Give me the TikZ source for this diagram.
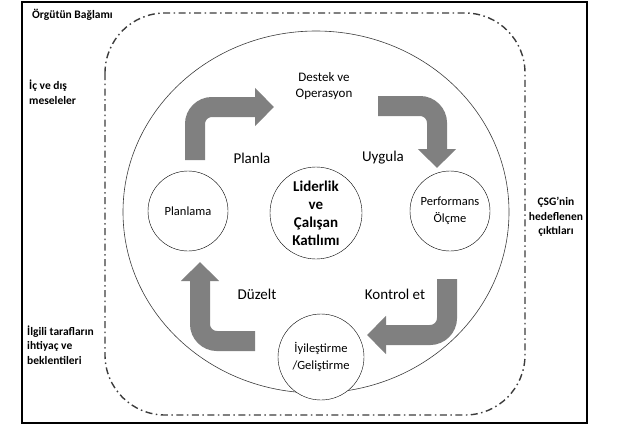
\documentclass[tikz,border=0pt]{standalone}
\usepackage{fontspec}
\setmainfont{Carlito}
\usetikzlibrary{arrows.meta}
\definecolor{arrowgray}{RGB}{128,128,128}
\definecolor{linegray}{RGB}{60,60,60}

\begin{document}
\begin{tikzpicture}[x=1pt, y=-1pt,
    stage/.style={circle, draw, fill=white, inner sep=0pt, minimum size=80pt, align=center, font=\fontsize{12.5}{17}\selectfont},
    phase/.style={font=\fontsize{15}{18}\selectfont},
    side/.style={font=\bfseries\fontsize{11.5}{14.5}\selectfont, align=left, inner sep=0pt},
    bigarrow/.style={draw=arrowgray, line width=20pt, rounded corners=17pt, -{Triangle[length=19pt, width=37pt]}}]
    \useasboundingbox (0, 0) rectangle (619, 426);
    \draw[line width=2.6pt] (22, 2) rectangle (587, 423);
    \draw[linegray, line width=1.4pt, dash pattern=on 7pt off 3.5pt on 1.5pt off 3.5pt, rounded corners=60pt] (105, 13) rectangle (525, 415);
    \draw[linegray, line width=0.6pt] (316, 212) ellipse [x radius=193, y radius=181];

    \node[stage] (plan) at (188, 211) {Planlama};
    \node[stage, minimum size=92pt, font=\bfseries\fontsize{15}{18}\selectfont] (lead) at (316, 213) {Liderlik\\ve\\Çalışan\\Katılımı};
    \node[stage] (perf) at (450, 211) {Performans\\Ölçme};
    \node[stage, minimum size=86pt] (impr) at (321, 357) {İyileştirme\\/Geliştirme};

    \node[font=\fontsize{13}{16}\selectfont, align=center] (support) at (324, 86) {Destek ve\\Operasyon};
    \node[phase] (planla) at (252, 158) {Planla};
    \node[phase] (uygula) at (383, 158) {Uygula};
    \node[phase] (duzelt) at (257, 294) {Düzelt};
    \node[phase] (kontrol) at (395, 294) {Kontrol et};

    \node[side, anchor=west] (context) at (32, 15) {Örgütün Bağlamı};
    \node[side, anchor=west] (issues) at (29, 92) {İç ve dış\\meseleler};
    \node[side, anchor=west] (parties) at (27, 345) {İlgili tarafların\\ihtiyaç ve\\beklentileri};
    \node[side, align=center] (outputs) at (556, 217) {ÇSG'nin\\hedeflenen\\çıktıları};

    \coordinate (tl1) at (195, 160);
    \coordinate (tl2) at (195, 107);
    \coordinate (tl3) at (274, 107);
    \coordinate (tr1) at (378, 106);
    \coordinate (tr2) at (437, 106);
    \coordinate (tr3) at (437, 168);
    \coordinate (br1) at (447, 279);
    \coordinate (br2) at (447, 335);
    \coordinate (br3) at (367, 335);
    \coordinate (bl1) at (255, 341);
    \coordinate (bl2) at (200, 341);
    \coordinate (bl3) at (200, 262);

    \draw[bigarrow] (tl1) -- (tl2) -- (tl3);
    \draw[bigarrow] (tr1) -- (tr2) -- (tr3);
    \draw[bigarrow] (br1) -- (br2) -- (br3);
    \draw[bigarrow] (bl1) -- (bl2) -- (bl3);
\end{tikzpicture}
\end{document}
